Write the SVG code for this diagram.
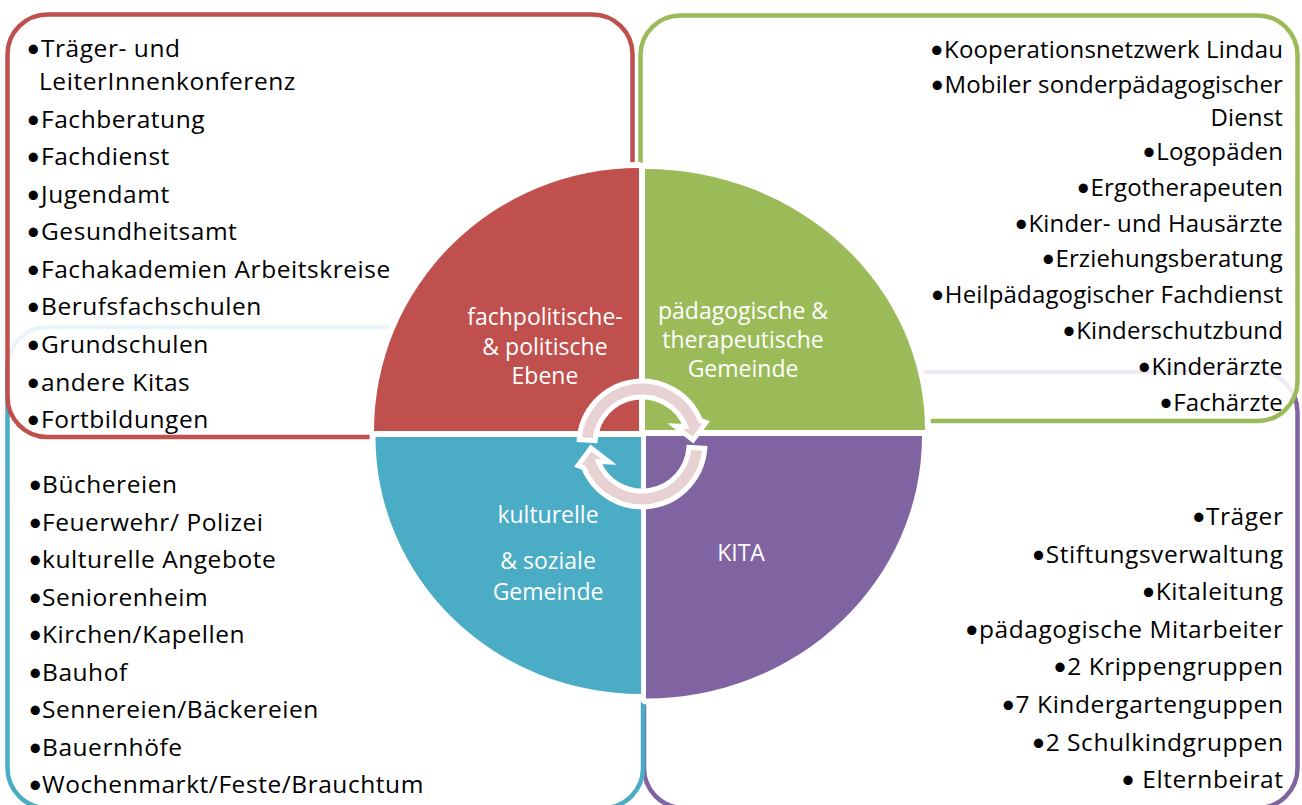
<svg xmlns="http://www.w3.org/2000/svg" width="1302" height="805" viewBox="0 0 1302 805">
  <style>
    .box { stroke-width: 4.5; }
    .lst { font-family: "Open Sans", "Noto Sans", sans-serif; font-size: 24.5px; letter-spacing: 0.55px; fill: #000; }
    .r { text-anchor: end; font-size: 24px; letter-spacing: 0.15px; }
    .k { text-anchor: end; }
    .b { font-family: Lato, "Liberation Sans", sans-serif; font-size: 25px; letter-spacing: 0; }
    .lbl { font-family: "Open Sans", "Noto Sans", sans-serif; font-size: 23px; fill: #fff; text-anchor: middle; }
    .halo { fill: #fff; stroke: #fff; stroke-width: 12; stroke-linejoin: round; }
    .arr { fill: #E7D1D2; stroke: #fff; stroke-width: 5; stroke-linejoin: miter; }
  </style>
  <rect width="1302" height="805" fill="#fff"/>

  <g id="box-kita">
    <rect class="box" x="644" y="372" width="653.5" height="436" rx="40" fill="#fff" stroke="#8064A2"/>
  </g>
  <g id="box-kulturelle">
    <rect class="box" x="7.5" y="327" width="635.5" height="481" rx="40" fill="#fff" stroke="#4BACC6"/>
  </g>
  <g id="box-fachpolitisch">
    <rect class="box" x="7.5" y="14.5" width="625" height="422.5" rx="40" fill="#fff" fill-opacity="0.88" stroke="#C0504D"/>
  </g>
  <g id="box-paedagogisch">
    <rect class="box" x="640.5" y="15.5" width="657" height="405.5" rx="40" fill="#fff" fill-opacity="0.88" stroke="#9BBB59"/>
  </g>

  <g id="circle">
    <g id="halo">
      <path class="halo" d="M639,431 L374,431 A265,263 0 0 1 639,168 Z"/>
      <path class="halo" d="M645,430 L645,169 A280,261 0 0 1 925,430 Z"/>
      <path class="halo" d="M646,436 L922,436 A276,262.5 0 0 1 646,698.5 Z"/>
      <path class="halo" d="M641,437 L641,694 A265.5,257 0 0 1 375.5,437 Z"/>
    </g>
    <g id="q-fachpolitisch">
      <path d="M639,431 L374,431 A265,263 0 0 1 639,168 Z" fill="#C0504D"/>
      <text class="lbl"><tspan x="545" y="325">fachpolitische-</tspan><tspan x="545" y="355">&amp; politische</tspan><tspan x="545" y="384">Ebene</tspan></text>
    </g>
    <g id="q-paedagogisch">
      <path d="M645,430 L645,169 A280,261 0 0 1 925,430 Z" fill="#9BBB59"/>
      <text class="lbl"><tspan x="743" y="318.5">pädagogische &amp;</tspan><tspan x="743" y="348">therapeutische</tspan><tspan x="743" y="377">Gemeinde</tspan></text>
    </g>
    <g id="q-kita">
      <path d="M646,436 L922,436 A276,262.5 0 0 1 646,698.5 Z" fill="#8064A2"/>
      <text class="lbl" x="741" y="561">KITA</text>
    </g>
    <g id="q-kulturelle">
      <path d="M641,437 L641,694 A265.5,257 0 0 1 375.5,437 Z" fill="#4BACC6"/>
      <text class="lbl"><tspan x="548" y="523">kulturelle</tspan><tspan x="548" y="568.5">&amp; soziale</tspan><tspan x="548" y="599.5">Gemeinde</tspan></text>
    </g>
  </g>

  <g id="connectors">
    <path id="arrow-top" class="arr" d="M579.2,439.6 A63,63 0 0 1 700.4,420.4 L706,422.5 L693,440 L675,426 L685.6,426.4 A47,47 0 0 0 595.1,440.7 Z"/>
    <use href="#arrow-top" transform="rotate(180 642 444)"/>
  </g>

  <g id="list-fachpolitisch" class="lst">
    <text><tspan class="b" x="26" y="56.5">•</tspan><tspan x="41">Träger- und</tspan></text>
    <text x="39" y="90">LeiterInnenkonferenz</text>
    <text><tspan class="b" x="26" y="127.5">•</tspan><tspan x="41">Fachberatung</tspan></text>
    <text><tspan class="b" x="26" y="165">•</tspan><tspan x="41">Fachdienst</tspan></text>
    <text><tspan class="b" x="26" y="202.5">•</tspan><tspan x="41">Jugendamt</tspan></text>
    <text><tspan class="b" x="26" y="240">•</tspan><tspan x="41">Gesundheitsamt</tspan></text>
    <text><tspan class="b" x="26" y="277.5">•</tspan><tspan x="41">Fachakademien Arbeitskreise</tspan></text>
    <text><tspan class="b" x="26" y="315">•</tspan><tspan x="41">Berufsfachschulen</tspan></text>
    <text><tspan class="b" x="26" y="353">•</tspan><tspan x="41">Grundschulen</tspan></text>
    <text><tspan class="b" x="26" y="390.5">•</tspan><tspan x="41">andere Kitas</tspan></text>
    <text><tspan class="b" x="26" y="428">•</tspan><tspan x="41">Fortbildungen</tspan></text>
  </g>

  <g id="list-kulturelle" class="lst">
    <text><tspan class="b" x="28" y="493">•</tspan><tspan x="42">Büchereien</tspan></text>
    <text><tspan class="b" x="28" y="530.5">•</tspan><tspan x="42">Feuerwehr/ Polizei</tspan></text>
    <text><tspan class="b" x="28" y="568">•</tspan><tspan x="42">kulturelle Angebote</tspan></text>
    <text><tspan class="b" x="28" y="605.5">•</tspan><tspan x="42">Seniorenheim</tspan></text>
    <text><tspan class="b" x="28" y="643">•</tspan><tspan x="42">Kirchen/Kapellen</tspan></text>
    <text><tspan class="b" x="28" y="680.5">•</tspan><tspan x="42">Bauhof</tspan></text>
    <text><tspan class="b" x="28" y="718">•</tspan><tspan x="42">Sennereien/Bäckereien</tspan></text>
    <text><tspan class="b" x="28" y="755.5">•</tspan><tspan x="42">Bauernhöfe</tspan></text>
    <text><tspan class="b" x="28" y="793">•</tspan><tspan x="42">Wochenmarkt/Feste/Brauchtum</tspan></text>
  </g>

  <g id="list-paedagogisch" class="lst r">
    <text x="1283" y="58"><tspan class="b">•</tspan>Kooperationsnetzwerk Lindau</text>
    <text x="1283" y="93"><tspan class="b">•</tspan>Mobiler sonderpädagogischer</text>
    <text x="1283" y="125.5">Dienst</text>
    <text x="1283" y="160"><tspan class="b">•</tspan>Logopäden</text>
    <text x="1283" y="195.8"><tspan class="b">•</tspan>Ergotherapeuten</text>
    <text x="1283" y="231.6"><tspan class="b">•</tspan>Kinder- und Hausärzte</text>
    <text x="1283" y="267.4"><tspan class="b">•</tspan>Erziehungsberatung</text>
    <text x="1283" y="303.2"><tspan class="b">•</tspan>Heilpädagogischer Fachdienst</text>
    <text x="1283" y="339"><tspan class="b">•</tspan>Kinderschutzbund</text>
    <text x="1283" y="374.8"><tspan class="b">•</tspan>Kinderärzte</text>
    <text x="1283" y="410.6"><tspan class="b">•</tspan>Fachärzte</text>
  </g>

  <g id="list-kita" class="lst k">
    <text x="1283.5" y="525"><tspan class="b">•</tspan>Träger</text>
    <text x="1283.5" y="562.5"><tspan class="b">•</tspan>Stiftungsverwaltung</text>
    <text x="1283.5" y="600"><tspan class="b">•</tspan>Kitaleitung</text>
    <text x="1283.5" y="637.5"><tspan class="b">•</tspan>pädagogische Mitarbeiter</text>
    <text x="1283.5" y="675"><tspan class="b">•</tspan>2 Krippengruppen</text>
    <text x="1283.5" y="713"><tspan class="b">•</tspan>7 Kindergartenguppen</text>
    <text x="1283.5" y="751"><tspan class="b">•</tspan>2 Schulkindgruppen</text>
    <text x="1283.5" y="788"><tspan class="b">•</tspan> Elternbeirat</text>
  </g>
</svg>
